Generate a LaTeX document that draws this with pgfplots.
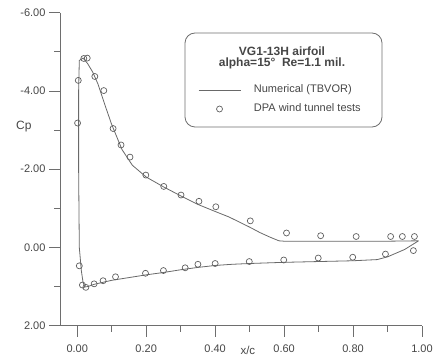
\documentclass[border=0pt]{standalone}
\usepackage{fontspec}
\setmainfont{Liberation Sans}
\usepackage{pgfplots}
\pgfplotsset{compat=1.18}
\definecolor{axisgray}{RGB}{110,110,110}
\definecolor{textgray}{RGB}{70,70,70}
\definecolor{linegray}{RGB}{105,105,105}
\definecolor{markgray}{RGB}{95,95,95}
\pgfplotsset{
  linelegend/.style={legend image code/.code={\draw[##1] (0pt,0pt) -- (42pt,0pt);}},
  marklegend/.style={legend image code/.code={\draw[mark repeat=2, mark phase=2, ##1] plot coordinates {(0pt,0pt) (21pt,0pt) (42pt,0pt)};}},
}
\begin{document}
\begin{tikzpicture}
\path[use as bounding box] (-60pt,-30.3pt) rectangle (383pt,325.7pt);
\begin{axis}[
  at={(0,0)}, anchor=south west,
  scale only axis, width=362pt, height=313pt,
  xmin=-0.05, xmax=1.0, ymin=-6, ymax=2, y dir=reverse,
  axis x line=bottom, axis y line=left,
  axis line style={-, draw=axisgray, line width=0.7pt},
  xtick={0,0.2,0.4,0.6,0.8,1.0},
  xticklabels={0.00,0.20,0.40,0.60,0.80,1.00},
  minor xtick={0.1,0.3,0.5,0.7,0.9},
  ytick={-6,-4,-2,0,2},
  yticklabels={-6.00,-4.00,-2.00,0.00,2.00},
  minor ytick={-5,-3,-1,1},
  tick align=outside,
  major tick length=11pt, minor tick length=6pt,
  every tick/.style={draw=axisgray, line width=0.7pt},
  ticklabel style={font=\fontsize{11}{13}\selectfont, text=textgray},
  xticklabel style={yshift=-5pt},
  xlabel={x/c}, ylabel={Cp},
  xlabel style={at={(axis description cs:0.519,-0.0915)}, anchor=base, font=\fontsize{11.5}{13}\selectfont, text=textgray},
  ylabel style={at={(axis description cs:-0.100,0.635)}, anchor=center, rotate=-90, font=\fontsize{12}{14}\selectfont, text=textgray},
  clip=false,
  legend style={at={(axis description cs:0.381,0.7227)}, anchor=west, draw=none, fill=none,
    inner sep=0pt, row sep=8.5pt, column sep=13pt, font=\fontsize{11}{13}\selectfont, text=textgray,
    nodes={inner sep=0pt, text height=8pt, text depth=2.5pt}},
  legend cell align=left,
]
\addplot[linegray, line width=0.8pt, linelegend]
  coordinates {
  (0.99,-0.17) (0.9,-0.16) (0.8,-0.16) (0.7,-0.16) (0.6,-0.16) (0.585,-0.17)
  (0.56,-0.26) (0.53,-0.38) (0.5,-0.52) (0.47,-0.65) (0.44,-0.78) (0.40,-0.92)
  (0.35,-1.10) (0.30,-1.32) (0.25,-1.55) (0.20,-1.80) (0.16,-2.10) (0.13,-2.50)
  (0.10,-3.14) (0.08,-3.65) (0.06,-4.18) (0.045,-4.48) (0.03,-4.70) (0.017,-4.84)
  (0.006,-4.78) (0.004,-4.0) (0.004,-2.0) (0.006,0.0) (0.012,0.6) (0.017,0.9)
  (0.022,1.01) (0.03,1.00) (0.05,0.94) (0.10,0.84) (0.15,0.77) (0.20,0.70)
  (0.25,0.64) (0.30,0.57) (0.35,0.51) (0.40,0.46) (0.45,0.43) (0.50,0.41)
  (0.60,0.38) (0.70,0.36) (0.80,0.34) (0.87,0.31) (0.90,0.24) (0.95,0.05)
  (0.99,-0.17)
  };
\addlegendentry{Numerical (TBVOR)}
\addplot[only marks, mark=o, mark size=3pt, mark options={draw=markgray, line width=0.7pt}, marklegend]
  coordinates {
  (0.001,-3.18) (0.003,-4.27) (0.019,-4.83) (0.029,-4.84) (0.051,-4.37)
  (0.077,-4.01) (0.104,-3.04) (0.127,-2.62) (0.153,-2.31) (0.199,-1.85)
  (0.251,-1.56) (0.301,-1.34) (0.353,-1.18) (0.402,-1.04) (0.502,-0.68)
  (0.607,-0.37) (0.706,-0.30) (0.809,-0.28) (0.909,-0.28) (0.943,-0.28)
  (0.978,-0.28)
  (0.006,0.47) (0.015,0.96) (0.025,1.02) (0.049,0.93) (0.075,0.85)
  (0.111,0.75) (0.198,0.66) (0.250,0.59) (0.313,0.52) (0.350,0.43)
  (0.400,0.41) (0.499,0.36) (0.599,0.32) (0.699,0.27) (0.799,0.25)
  (0.894,0.17) (0.975,0.08)
  };
\addlegendentry{DPA wind tunnel tests}
\end{axis}
\draw[axisgray, line width=0.8pt, rounded corners=10pt] (125pt,292.7pt) rectangle (322pt,198.7pt);
\node[align=center, font=\bfseries\fontsize{12}{11}\selectfont, text=textgray] at (222pt,267.7pt)
  {VG1-13H airfoil\\alpha=15°\ \ Re=1.1 mil.};
\end{tikzpicture}
\end{document}
